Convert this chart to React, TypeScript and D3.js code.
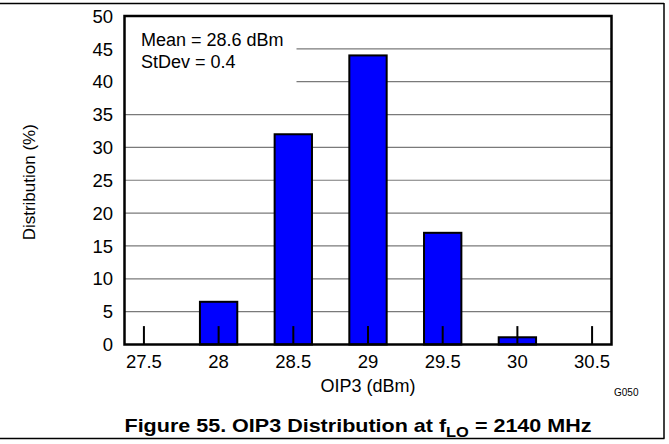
import React from "react";
import * as d3 from "d3";

const categories = ["27.5", "28", "28.5", "29", "29.5", "30", "30.5"];
const distribution = [0, 6.5, 32, 44, 17, 1.1, 0];
const yTicks = [0, 5, 10, 15, 20, 25, 30, 35, 40, 45, 50];
const statsLines = ["Mean = 28.6 dBm", "StDev = 0.4"];

const FONT = "'Liberation Sans', Arial, Helvetica, sans-serif";

export default function App() {
  const W = 669;
  const H = 444;
  const left = 124.5;
  const right = 611.5;
  const top = 16;
  const bottom = 344.5;

  const x = d3.scalePoint<string>().domain(categories).range([left, right]).padding(0.26);
  const y = d3.scaleLinear().domain([0, 50]).range([bottom, top]);
  const barW = x.step() * 0.5;

  // stats box covers the upper-left part of the grid
  const boxRight = 296.5;
  const boxBottom = 95;

  return (
    <div>
      <style>{`body{margin:0}`}</style>
      <svg width={W} height={H} style={{ display: "block", fontFamily: FONT }}>
        <rect width={W} height={H} fill="#fff" />
        {/* figure border: top, right, bottom */}
        <line x1={0} x2={664} y1={3.5} y2={3.5} stroke="#000" strokeWidth={1.5} />
        <line x1={664} x2={664} y1={3} y2={438.5} stroke="#000" strokeWidth={1.5} />
        <line x1={0} x2={664.5} y1={438.5} y2={438.5} stroke="#000" strokeWidth={1.5} />

        {/* grid */}
        {yTicks.slice(1, -1).map((t) => (
          <line
            key={t}
            x1={y(t) < boxBottom ? boxRight : left}
            x2={right}
            y1={y(t)}
            y2={y(t)}
            stroke="#7a7a7a"
            strokeWidth={1.2}
          />
        ))}

        {/* bars */}
        {categories.map((c, i) =>
          distribution[i] > 0 ? (
            <rect
              key={c}
              x={(x(c) as number) - barW / 2}
              y={y(distribution[i])}
              width={barW}
              height={bottom - y(distribution[i])}
              fill="#0000ff"
              stroke="#000"
              strokeWidth={2}
            />
          ) : null
        )}

        {/* inner tick marks */}
        {categories.map((c) => (
          <line
            key={c}
            x1={x(c) as number}
            x2={x(c) as number}
            y1={bottom}
            y2={y(2.8)}
            stroke="#000"
            strokeWidth={2}
          />
        ))}

        {/* plot frame */}
        <rect x={left} y={top} width={right - left} height={bottom - top} fill="none" stroke="#000" strokeWidth={2.5} />

        {/* stats */}
        {statsLines.map((s, i) => (
          <text key={s} x={141} y={46 + i * 22} fontSize={18} fill="#000">
            {s}
          </text>
        ))}

        {/* y tick labels */}
        {yTicks.map((t) => (
          <text key={t} x={113} y={y(t)} dy="0.36em" textAnchor="end" fontSize={18.5} fill="#000">
            {t}
          </text>
        ))}

        {/* x tick labels */}
        {categories.map((c) => (
          <text key={c} x={x(c) as number} y={368} textAnchor="middle" fontSize={18.5} fill="#000">
            {c}
          </text>
        ))}

        {/* axis titles */}
        <text x={(left + right) / 2} y={392} textAnchor="middle" fontSize={18} fill="#000">
          OIP3 (dBm)
        </text>
        <text
          transform={`translate(35,${(top + bottom) / 2 + 2}) rotate(-90)`}
          textAnchor="middle"
          fontSize={17}
          fill="#000"
        >
          Distribution (%)
        </text>
        <text x={614} y={396} fontSize={10} fill="#000">
          G050
        </text>

        {/* figure caption */}
        <text
          x={124.5}
          y={432}
          fontSize={19}
          fontWeight="bold"
          fill="#000"
          textLength={467}
          lengthAdjust="spacingAndGlyphs"
        >
          Figure 55. OIP3 Distribution at f
          <tspan fontSize={14.5} dy={5}>LO</tspan>
          <tspan dy={-5}> = 2140 MHz</tspan>
        </text>
      </svg>
    </div>
  );
}
